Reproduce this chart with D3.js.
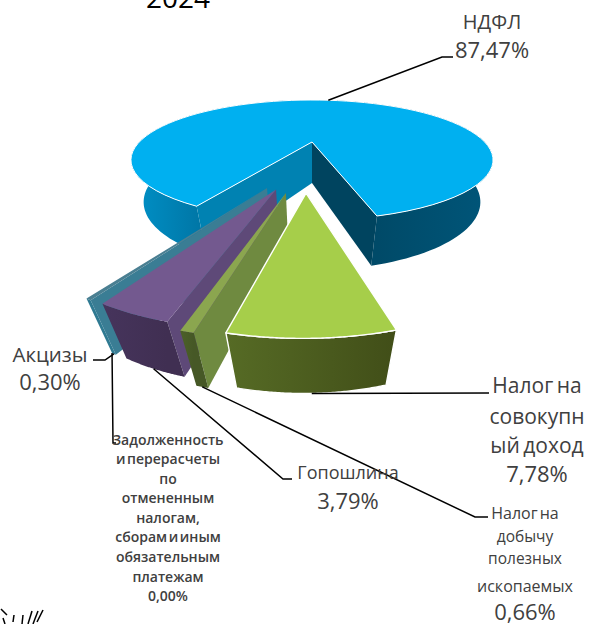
<!DOCTYPE html>
<html>
<head>
<meta charset="utf-8">
<script src="https://cdn.jsdelivr.net/npm/d3@7"></script>
<style>
  html, body { margin: 0; padding: 0; background: #fff; }
  text { font-family: "Open Sans", sans-serif; fill: #404040; }
</style>
</head>
<body>
<div id="chart"></div>
<script>
// values, in drawing order around the pie
const categories = ["НДФЛ", "Налог на совокупный доход", "Налог на добычу полезных ископаемых", "Гопошлина", "Акцизы", "Задолженность и перерасчеты"];
const shares = [87.47, 7.78, 0.66, 3.79, 0.30, 0.00];
const shareLabels = ["87,47%", "7,78%", "0,66%", "3,79%", "0,30%", "0,00%"];

// slice styles
const topColors = ["#00b0f0", "#a6ce4a", "#8ba64f", "#73598f", "#4a7f92", "#4a7f92"];
const rimColorsA = ["#0090c6", "#566b25", "#4c6028", "#46345c", "#2f7a92", "#2f7a92"];
const rimColorsB = ["#00486a", "#414e18", "#465826", "#402f52", "#2f7a92", "#2f7a92"];
const faceColors = ["#0082b2", "#0082b2", "#6f8a40", "#5e4978", "#3a7d94", "#3a7d94"];
const edgeWidths = [1, 1.4, 0, 0, 0, 0];
// how far each slice is pulled out of the pie, in pie radii
const explodeX = [0, -0.027, -0.118, -0.165, -0.208, -0.208];
const explodeY = [0, 0.73, 0.73, 0.69, 0.672, 0.672];

const width = 590, height = 624;
const startDeg = 209.6;

// perspective of the pie plane: x,y in radii, z 0 = top face, 1 = bottom face
const view = {cx: 312, cy: 142, b: 172.7, a: 54.6, k: 0.3, c: 43.8, d: 0.0687};
function project(x, y, z){
    const w = 1 - view.k * y + view.d * z;
    return [view.cx + view.b * x / w, view.cy + (view.a * y + view.c * z) / w];
}

const svg = d3.select("#chart").append("svg")
    .attr("width", width)
    .attr("height", height)
    .style("display", "block");
const defs = svg.append("defs");

const pieData = d3.pie().sort(null)
    .startAngle(startDeg * Math.PI / 180)
    .endAngle((startDeg + 360) * Math.PI / 180)(shares);

const outline = d3.line();

function rimPoint(i, angle, z){
    return project(explodeX[i] + Math.sin(angle), explodeY[i] - Math.cos(angle), z);
}
function arcAngles(slice, from, to){
    const a0 = from === undefined ? slice.startAngle : from;
    const a1 = to === undefined ? slice.endAngle : to;
    return d3.range(0, 81).map(n => a0 + (a1 - a0) * n / 80);
}
function rimBand(i, angles){
    return angles.map(a => rimPoint(i, a, 0)).concat(angles.slice().reverse().map(a => rimPoint(i, a, 1)));
}
function rimGradient(id, x0, x1, c0, c1){
    const g = defs.append("linearGradient").attr("id", id)
        .attr("gradientUnits", "userSpaceOnUse")
        .attr("x1", x0).attr("x2", x1).attr("y1", 0).attr("y2", 0);
    g.append("stop").attr("offset", 0).attr("stop-color", c0);
    g.append("stop").attr("offset", 1).attr("stop-color", c1);
    return "url(#" + id + ")";
}

const slicesG = svg.append("g").attr("class", "slices");

function drawSlice(slice, i){
    const g = slicesG.append("g").attr("class", "slice");
    const angles = arcAngles(slice);
    const apexTop = project(explodeX[i], explodeY[i], 0);
    const apexBottom = project(explodeX[i], explodeY[i], 1);
    const edgeW = edgeWidths[i];
    const edge = sel => sel.attr("stroke", edgeW ? "#fff" : "none").attr("stroke-width", edgeW).attr("stroke-linejoin", "round");

    if(i === 0){
        // big slice: split the rim at the back of the pie, left side lit, right side dark
        const back = 2 * Math.PI;
        g.append("path").attr("d", outline(rimBand(i, arcAngles(slice, slice.startAngle, back))) + "Z")
            .attr("fill", rimGradient("rimLeft", 134, 230, rimColorsA[0], "#006b98"));
        g.append("path").attr("d", outline(rimBand(i, arcAngles(slice, back, slice.endAngle))) + "Z")
            .attr("fill", rimGradient("rimRight", 378, 495, "#004a68", "#00567a"));
        // cut faces of the gap
        g.append("path")
            .attr("d", outline([apexTop, apexBottom, rimPoint(i, slice.startAngle, 1), rimPoint(i, slice.startAngle, 0)]) + "Z")
            .attr("fill", faceColors[0]);
        g.append("path")
            .attr("d", outline([apexTop, apexBottom, rimPoint(i, slice.endAngle, 1), rimPoint(i, slice.endAngle, 0)]) + "Z")
            .attr("fill", "#00445f");
    } else {
        // radial face on the clockwise-first side, then the outer rim
        g.append("path")
            .attr("d", outline([apexTop, apexBottom, rimPoint(i, slice.startAngle, 1), rimPoint(i, slice.startAngle, 0)]) + "Z")
            .attr("fill", faceColors[i]);
        const x0 = rimPoint(i, slice.endAngle, 0)[0], x1 = rimPoint(i, slice.startAngle, 0)[0];
        g.append("path").attr("d", outline(rimBand(i, angles)) + "Z")
            .attr("fill", rimGradient("rim" + i, x0, x1, rimColorsA[i], rimColorsB[i]))
            .call(edge);
    }

    g.append("path")
        .attr("d", outline([apexTop].concat(angles.map(a => rimPoint(i, a, 0)))) + "Z")
        .attr("fill", topColors[i])
        .call(edge);
}

// painter's order: main pie, then the pulled-out slices from the far left to the right
drawSlice(pieData[0], 0);
[5, 4, 3, 2, 1].forEach(i => { if(shares[i] > 0) drawSlice(pieData[i], i); });

// leader lines start at the middle of each slice's rim
function midRim(i, z){
    const mid = (pieData[i].startAngle + pieData[i].endAngle) / 2;
    return rimPoint(i, mid, z);
}
const leaders = [
    [midRim(0, 0), [442, 57], [453, 57]],
    [midRim(1, 1), [489, 393]],
    [midRim(2, 1), [475, 517], [488, 517]],
    [midRim(3, 1), [283, 479], [292, 479]],
    [midRim(4, 1), [105, 360], [93, 360]],
    [midRim(5, 1), [113, 443], [116, 443]]
];
svg.append("g").attr("class", "leaders").selectAll("path")
    .data(leaders)
    .join("path")
    .attr("d", d => outline(d))
    .attr("fill", "none")
    .attr("stroke", "#000")
    .attr("stroke-width", 1.5);

// labels: [text, baseline, font size]
const labelLines = [
    {cx: 492, lines: [["НДФЛ", 29, 20], [shareLabels[0], 58, 22]]},
    {cx: 537, lines: [["Налог на", 393, 21], ["совокупн", 424, 21], ["ый доход", 453, 21], [shareLabels[1], 482, 22]]},
    {cx: 348, lines: [["Гопошлина", 479, 18], [shareLabels[3], 509, 22]]},
    {cx: 50, lines: [["Акцизы", 362, 20.5], [shareLabels[4], 390, 22]]},
    {cx: 525, lines: [["Налог на", 519, 16], ["добычу", 542, 15.5], ["полезных", 564, 15.5], ["ископаемых", 592, 16], [shareLabels[2], 620, 22]]},
    {cx: 168, lines: [["Задолженность", 445, 14], ["и перерасчеты", 464, 14], ["по", 484, 14], ["отмененным", 503, 14], ["налогам,", 523, 14], ["сборам и иным", 542, 14], ["обязательным", 562, 14], ["платежам", 582, 14], [shareLabels[5], 601, 14]]}
];
const labelsG = svg.append("g").attr("class", "labels");
labelLines.forEach(block => {
    block.lines.forEach(line => {
        labelsG.append("text")
            .attr("x", block.cx)
            .attr("y", line[1])
            .attr("text-anchor", "middle")
            .style("font-size", line[2] + "px")
            .style("font-weight", line[2] === 14 ? 600 : 400)
            .style("word-spacing", "-2px")
            .text(line[0]);
    });
});

// chart title, cut by the top of the picture
svg.append("text")
    .attr("x", 178)
    .attr("y", 8)
    .attr("text-anchor", "middle")
    .style("font-size", "28px")
    .style("fill", "#000")
    .text("2024");

// scrap of a scanned mark in the bottom left corner of the source picture
const scrapStrokes = [[[1, 609], [7, 615]], [[3, 618], [5, 624]], [[14, 615], [13, 622]], [[23, 615], [22, 624]], [[32, 611], [28, 624]], [[38, 611], [33, 624]], [[43, 610], [37, 622]]];
svg.append("g").attr("class", "scrap").selectAll("path")
    .data(scrapStrokes)
    .join("path")
    .attr("d", d => outline(d))
    .attr("stroke", "#000")
    .attr("stroke-width", 1.5);
</script>
</body>
</html>
